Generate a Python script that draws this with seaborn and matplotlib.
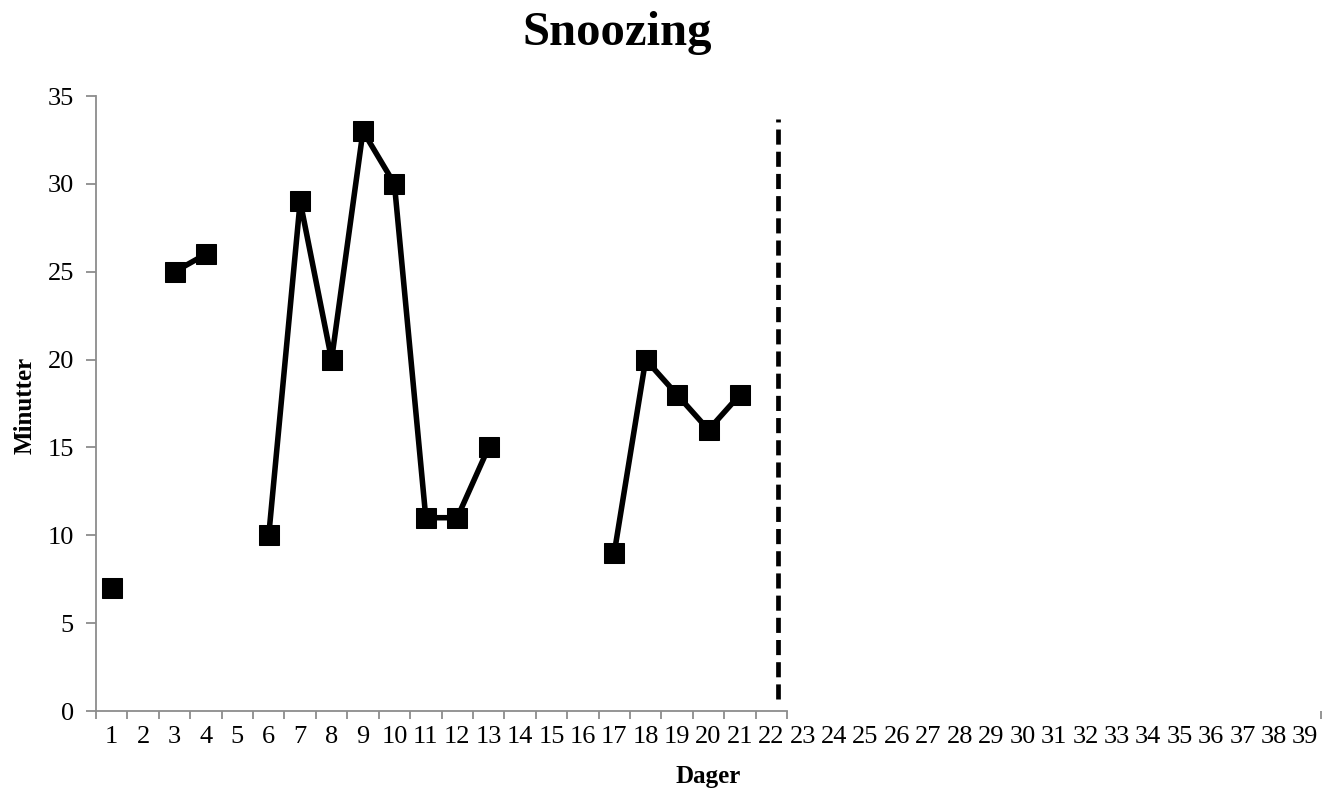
import numpy as np
import pandas as pd
import matplotlib
matplotlib.use('Agg')
import matplotlib.pyplot as plt
import seaborn as sns

# Days 1..39, minutes of snoozing (NaN = no registration)
days = list(range(1, 40))
minutes = [7, np.nan, 25, 26, np.nan, 10, 29, 20, 33, 30, 11, 11, 15,
           np.nan, np.nan, np.nan, 9, 20, 18, 16, 18] + [np.nan] * 18

# phase change line (dashed), roughly after day 22
phase_x = 22.2
phase_y = [0.7, 33.7]

sns.set_theme(style='white')
plt.rcParams['font.family'] = ['Liberation Serif', 'DejaVu Serif']
plt.rcParams['text.color'] = 'black'
plt.rcParams['xtick.labelcolor'] = 'black'
plt.rcParams['ytick.labelcolor'] = 'black'

df = pd.DataFrame({'dag': days, 'min': minutes})
# break line where a value is missing
df['seg'] = df['min'].isna().cumsum()
df = df.dropna()

fig = plt.figure(figsize=(13.24, 7.96), dpi=100)
ax = fig.add_axes([96 / 1324, 85 / 796, (1321 - 96) / 1324, (711 - 96) / 796])

sns.lineplot(data=df, x='dag', y='min', units='seg', estimator=None,
             color='black', lw=4, marker='s', markersize=14.5,
             markeredgecolor='black', ax=ax, legend=False)

ax.plot([phase_x, phase_x], phase_y, color='black', lw=3.4,
        dashes=(3.2, 1.5), solid_capstyle='butt', dash_capstyle='butt')

ax.set_xlim(0.5, 39.5)
ax.set_ylim(0, 35)

grey = '#8c8c8c'
for s in ['top', 'right']:
    ax.spines[s].set_visible(False)
for s in ['left', 'bottom']:
    ax.spines[s].set_color(grey)
    ax.spines[s].set_linewidth(1.3)
ax.spines['bottom'].set_bounds(0.5, 22.5)

# ticks at boundaries, labels at category centres
ax.set_xticks(list(np.arange(0.5, 23, 1)) + [39.5])
ax.set_xticklabels([])
ax.set_xticks(days, minor=True)
ax.set_xticklabels([str(d) for d in days], minor=True, fontsize=19)
ax.tick_params(axis='x', which='major', direction='out', length=6,
               width=1.3, color=grey, bottom=True)
ax.tick_params(axis='x', which='minor', length=0, pad=11, bottom=True)

ax.set_yticks(range(0, 36, 5))
ax.set_yticklabels([str(v) for v in range(0, 36, 5)], fontsize=19)
ax.tick_params(axis='y', direction='out', length=7, width=1.3,
               color=grey, left=True, pad=9)

ax.set_xlabel('')
ax.set_ylabel('')

fig.text(617 / 1324, 1 - 11 / 796, 'Snoozing', ha='center', va='top',
         fontsize=35, fontweight='bold')
fig.text(708 / 1324, 1 - 777 / 796, 'Dager', ha='center', va='center',
         fontsize=18, fontweight='bold')
fig.text(25 / 1324, 1 - 405 / 796, 'Minutter', ha='center', va='center',
         rotation=90, fontsize=18, fontweight='bold')

fig.savefig('out.png', dpi=100)
